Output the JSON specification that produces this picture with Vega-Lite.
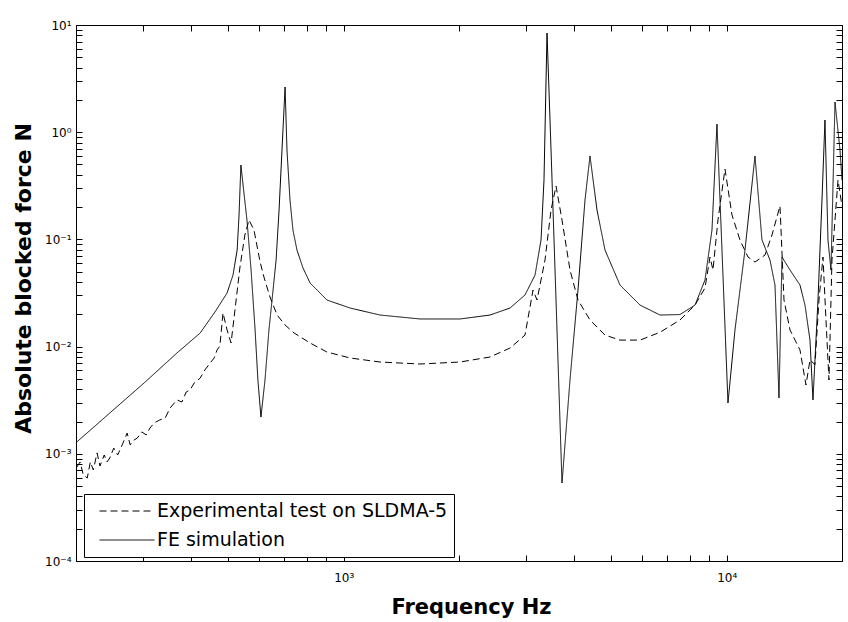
{
  "$schema": "https://vega.github.io/schema/vega-lite/v6.json",
  "width": 766,
  "height": 536,
  "autosize": {"type": "none"},
  "padding": {"left": 76, "top": 25, "right": 6, "bottom": 61},
  "background": "white",
  "config": {
    "view": {"stroke": "black", "strokeWidth": 1},
    "axis": {"domain": false, "ticks": true, "zindex": 1, "tickColor": "black", "tickWidth": 1, "tickOpacity": 1, "labelColor": "black", "titleColor": "black", "grid": false, "labelFont": "DejaVu Sans", "labelFontSize": 12, "titleFont": "DejaVu Sans", "titleFontWeight": "bold"}
  },
  "datasets": {
    "curves": [
      {"series": "FE simulation", "f": 201, "v": 0.00129},
      {"series": "FE simulation", "f": 245, "v": 0.0024},
      {"series": "FE simulation", "f": 301, "v": 0.00457},
      {"series": "FE simulation", "f": 367, "v": 0.00872},
      {"series": "FE simulation", "f": 422, "v": 0.0134},
      {"series": "FE simulation", "f": 461, "v": 0.021},
      {"series": "FE simulation", "f": 496, "v": 0.0316},
      {"series": "FE simulation", "f": 514, "v": 0.0465},
      {"series": "FE simulation", "f": 527, "v": 0.0796},
      {"series": "FE simulation", "f": 533, "v": 0.169},
      {"series": "FE simulation", "f": 539, "v": 0.494},
      {"series": "FE simulation", "f": 546, "v": 0.322},
      {"series": "FE simulation", "f": 559, "v": 0.1517},
      {"series": "FE simulation", "f": 573, "v": 0.0518},
      {"series": "FE simulation", "f": 587, "v": 0.0143},
      {"series": "FE simulation", "f": 597, "v": 0.00488},
      {"series": "FE simulation", "f": 608, "v": 0.0022},
      {"series": "FE simulation", "f": 623, "v": 0.00488},
      {"series": "FE simulation", "f": 638, "v": 0.0143},
      {"series": "FE simulation", "f": 650, "v": 0.0272},
      {"series": "FE simulation", "f": 666, "v": 0.0642},
      {"series": "FE simulation", "f": 678, "v": 0.188},
      {"series": "FE simulation", "f": 690, "v": 0.682},
      {"series": "FE simulation", "f": 703, "v": 2.64},
      {"series": "FE simulation", "f": 711, "v": 0.682},
      {"series": "FE simulation", "f": 724, "v": 0.233},
      {"series": "FE simulation", "f": 737, "v": 0.1224},
      {"series": "FE simulation", "f": 755, "v": 0.0796},
      {"series": "FE simulation", "f": 783, "v": 0.0541},
      {"series": "FE simulation", "f": 817, "v": 0.0392},
      {"series": "FE simulation", "f": 904, "v": 0.0272},
      {"series": "FE simulation", "f": 1039, "v": 0.0229},
      {"series": "FE simulation", "f": 1244, "v": 0.0197},
      {"series": "FE simulation", "f": 1582, "v": 0.0181},
      {"series": "FE simulation", "f": 2012, "v": 0.0181},
      {"series": "FE simulation", "f": 2410, "v": 0.0197},
      {"series": "FE simulation", "f": 2718, "v": 0.0229},
      {"series": "FE simulation", "f": 2974, "v": 0.0303},
      {"series": "FE simulation", "f": 3159, "v": 0.0465},
      {"series": "FE simulation", "f": 3275, "v": 0.0987},
      {"series": "FE simulation", "f": 3334, "v": 0.358},
      {"series": "FE simulation", "f": 3395, "v": 8.42},
      {"series": "FE simulation", "f": 3478, "v": 0.682},
      {"series": "FE simulation", "f": 3584, "v": 0.0272},
      {"series": "FE simulation", "f": 3715, "v": 0.000534},
      {"series": "FE simulation", "f": 3898, "v": 0.00488},
      {"series": "FE simulation", "f": 4090, "v": 0.0337},
      {"series": "FE simulation", "f": 4266, "v": 0.233},
      {"series": "FE simulation", "f": 4396, "v": 0.6},
      {"series": "FE simulation", "f": 4585, "v": 0.188},
      {"series": "FE simulation", "f": 4811, "v": 0.0796},
      {"series": "FE simulation", "f": 5265, "v": 0.0375},
      {"series": "FE simulation", "f": 5939, "v": 0.0244},
      {"series": "FE simulation", "f": 6696, "v": 0.0197},
      {"series": "FE simulation", "f": 7551, "v": 0.0199},
      {"series": "FE simulation", "f": 8265, "v": 0.0244},
      {"series": "FE simulation", "f": 8776, "v": 0.0418},
      {"series": "FE simulation", "f": 9153, "v": 0.1224},
      {"series": "FE simulation", "f": 9433, "v": 1.19},
      {"series": "FE simulation", "f": 9720, "v": 0.0796},
      {"series": "FE simulation", "f": 10077, "v": 0.00298},
      {"series": "FE simulation", "f": 10510, "v": 0.0143},
      {"series": "FE simulation", "f": 11162, "v": 0.0796},
      {"series": "FE simulation", "f": 11854, "v": 0.6},
      {"series": "FE simulation", "f": 12363, "v": 0.0987},
      {"series": "FE simulation", "f": 12972, "v": 0.0642},
      {"series": "FE simulation", "f": 13369, "v": 0.0375},
      {"series": "FE simulation", "f": 13694, "v": 0.00332},
      {"series": "FE simulation", "f": 13943, "v": 0.0685},
      {"series": "FE simulation", "f": 14630, "v": 0.0518},
      {"series": "FE simulation", "f": 15536, "v": 0.0375},
      {"series": "FE simulation", "f": 16010, "v": 0.0244},
      {"series": "FE simulation", "f": 16499, "v": 0.0115},
      {"series": "FE simulation", "f": 16798, "v": 0.00318},
      {"series": "FE simulation", "f": 17311, "v": 0.0272},
      {"series": "FE simulation", "f": 17732, "v": 0.233},
      {"series": "FE simulation", "f": 18054, "v": 1.3},
      {"series": "FE simulation", "f": 18383, "v": 0.0987},
      {"series": "FE simulation", "f": 18717, "v": 0.0518},
      {"series": "FE simulation", "f": 19176, "v": 1.913},
      {"series": "FE simulation", "f": 19761, "v": 0.682},
      {"series": "FE simulation", "f": 20000, "v": 0.358},
      {"series": "Experimental test on SLDMA-5", "f": 201, "v": 0.000753},
      {"series": "Experimental test on SLDMA-5", "f": 205, "v": 0.000839},
      {"series": "Experimental test on SLDMA-5", "f": 209, "v": 0.000634},
      {"series": "Experimental test on SLDMA-5", "f": 214, "v": 0.000595},
      {"series": "Experimental test on SLDMA-5", "f": 218, "v": 0.000839},
      {"series": "Experimental test on SLDMA-5", "f": 222, "v": 0.000706},
      {"series": "Experimental test on SLDMA-5", "f": 227, "v": 0.00102},
      {"series": "Experimental test on SLDMA-5", "f": 231, "v": 0.000769},
      {"series": "Experimental test on SLDMA-5", "f": 237, "v": 0.000975},
      {"series": "Experimental test on SLDMA-5", "f": 241, "v": 0.000839},
      {"series": "Experimental test on SLDMA-5", "f": 245, "v": 0.000914},
      {"series": "Experimental test on SLDMA-5", "f": 251, "v": 0.00113},
      {"series": "Experimental test on SLDMA-5", "f": 257, "v": 0.000975},
      {"series": "Experimental test on SLDMA-5", "f": 264, "v": 0.00121},
      {"series": "Experimental test on SLDMA-5", "f": 272, "v": 0.00156},
      {"series": "Experimental test on SLDMA-5", "f": 277, "v": 0.00121},
      {"series": "Experimental test on SLDMA-5", "f": 283, "v": 0.00134},
      {"series": "Experimental test on SLDMA-5", "f": 289, "v": 0.0014},
      {"series": "Experimental test on SLDMA-5", "f": 297, "v": 0.0016},
      {"series": "Experimental test on SLDMA-5", "f": 305, "v": 0.0015},
      {"series": "Experimental test on SLDMA-5", "f": 312, "v": 0.00174},
      {"series": "Experimental test on SLDMA-5", "f": 320, "v": 0.00194},
      {"series": "Experimental test on SLDMA-5", "f": 331, "v": 0.00207},
      {"series": "Experimental test on SLDMA-5", "f": 342, "v": 0.00216},
      {"series": "Experimental test on SLDMA-5", "f": 352, "v": 0.00267},
      {"series": "Experimental test on SLDMA-5", "f": 367, "v": 0.00318},
      {"series": "Experimental test on SLDMA-5", "f": 378, "v": 0.00304},
      {"series": "Experimental test on SLDMA-5", "f": 388, "v": 0.00377},
      {"series": "Experimental test on SLDMA-5", "f": 397, "v": 0.00394},
      {"series": "Experimental test on SLDMA-5", "f": 407, "v": 0.00457},
      {"series": "Experimental test on SLDMA-5", "f": 422, "v": 0.00509},
      {"series": "Experimental test on SLDMA-5", "f": 434, "v": 0.00605},
      {"series": "Experimental test on SLDMA-5", "f": 448, "v": 0.00703},
      {"series": "Experimental test on SLDMA-5", "f": 459, "v": 0.00783},
      {"series": "Experimental test on SLDMA-5", "f": 467, "v": 0.0093},
      {"series": "Experimental test on SLDMA-5", "f": 475, "v": 0.01013},
      {"series": "Experimental test on SLDMA-5", "f": 484, "v": 0.0206},
      {"series": "Experimental test on SLDMA-5", "f": 496, "v": 0.0143},
      {"series": "Experimental test on SLDMA-5", "f": 508, "v": 0.0108},
      {"series": "Experimental test on SLDMA-5", "f": 520, "v": 0.0219},
      {"series": "Experimental test on SLDMA-5", "f": 536, "v": 0.0553},
      {"series": "Experimental test on SLDMA-5", "f": 552, "v": 0.1099},
      {"series": "Experimental test on SLDMA-5", "f": 566, "v": 0.1517},
      {"series": "Experimental test on SLDMA-5", "f": 583, "v": 0.1224},
      {"series": "Experimental test on SLDMA-5", "f": 605, "v": 0.0615},
      {"series": "Experimental test on SLDMA-5", "f": 619, "v": 0.0446},
      {"series": "Experimental test on SLDMA-5", "f": 642, "v": 0.029},
      {"series": "Experimental test on SLDMA-5", "f": 670, "v": 0.0197},
      {"series": "Experimental test on SLDMA-5", "f": 703, "v": 0.0159},
      {"series": "Experimental test on SLDMA-5", "f": 742, "v": 0.0134},
      {"series": "Experimental test on SLDMA-5", "f": 817, "v": 0.0108},
      {"series": "Experimental test on SLDMA-5", "f": 904, "v": 0.0089},
      {"series": "Experimental test on SLDMA-5", "f": 1039, "v": 0.00783},
      {"series": "Experimental test on SLDMA-5", "f": 1244, "v": 0.00718},
      {"series": "Experimental test on SLDMA-5", "f": 1582, "v": 0.00688},
      {"series": "Experimental test on SLDMA-5", "f": 2012, "v": 0.00718},
      {"series": "Experimental test on SLDMA-5", "f": 2410, "v": 0.008},
      {"series": "Experimental test on SLDMA-5", "f": 2718, "v": 0.0097},
      {"series": "Experimental test on SLDMA-5", "f": 2974, "v": 0.0128},
      {"series": "Experimental test on SLDMA-5", "f": 3121, "v": 0.0337},
      {"series": "Experimental test on SLDMA-5", "f": 3197, "v": 0.0272},
      {"series": "Experimental test on SLDMA-5", "f": 3354, "v": 0.0642},
      {"series": "Experimental test on SLDMA-5", "f": 3478, "v": 0.188},
      {"series": "Experimental test on SLDMA-5", "f": 3584, "v": 0.315},
      {"series": "Experimental test on SLDMA-5", "f": 3715, "v": 0.1517},
      {"series": "Experimental test on SLDMA-5", "f": 3898, "v": 0.0518},
      {"series": "Experimental test on SLDMA-5", "f": 4090, "v": 0.0272},
      {"series": "Experimental test on SLDMA-5", "f": 4396, "v": 0.0177},
      {"series": "Experimental test on SLDMA-5", "f": 4811, "v": 0.0128},
      {"series": "Experimental test on SLDMA-5", "f": 5265, "v": 0.0115},
      {"series": "Experimental test on SLDMA-5", "f": 5939, "v": 0.0115},
      {"series": "Experimental test on SLDMA-5", "f": 6696, "v": 0.0136},
      {"series": "Experimental test on SLDMA-5", "f": 7551, "v": 0.0177},
      {"series": "Experimental test on SLDMA-5", "f": 8265, "v": 0.0244},
      {"series": "Experimental test on SLDMA-5", "f": 8776, "v": 0.0352},
      {"series": "Experimental test on SLDMA-5", "f": 9044, "v": 0.0685},
      {"series": "Experimental test on SLDMA-5", "f": 9208, "v": 0.0518},
      {"series": "Experimental test on SLDMA-5", "f": 9489, "v": 0.1517},
      {"series": "Experimental test on SLDMA-5", "f": 9897, "v": 0.4535},
      {"series": "Experimental test on SLDMA-5", "f": 10322, "v": 0.169},
      {"series": "Experimental test on SLDMA-5", "f": 10831, "v": 0.0987},
      {"series": "Experimental test on SLDMA-5", "f": 11365, "v": 0.0685},
      {"series": "Experimental test on SLDMA-5", "f": 11854, "v": 0.0615},
      {"series": "Experimental test on SLDMA-5", "f": 12588, "v": 0.0715},
      {"series": "Experimental test on SLDMA-5", "f": 13128, "v": 0.1099},
      {"series": "Experimental test on SLDMA-5", "f": 13777, "v": 0.205},
      {"series": "Experimental test on SLDMA-5", "f": 14112, "v": 0.0272},
      {"series": "Experimental test on SLDMA-5", "f": 14630, "v": 0.0143},
      {"series": "Experimental test on SLDMA-5", "f": 15536, "v": 0.0093},
      {"series": "Experimental test on SLDMA-5", "f": 16107, "v": 0.00438},
      {"series": "Experimental test on SLDMA-5", "f": 16499, "v": 0.0075},
      {"series": "Experimental test on SLDMA-5", "f": 17002, "v": 0.0068},
      {"series": "Experimental test on SLDMA-5", "f": 17414, "v": 0.0272},
      {"series": "Experimental test on SLDMA-5", "f": 17839, "v": 0.0685},
      {"series": "Experimental test on SLDMA-5", "f": 18164, "v": 0.0177},
      {"series": "Experimental test on SLDMA-5", "f": 18494, "v": 0.00488},
      {"series": "Experimental test on SLDMA-5", "f": 18830, "v": 0.0642},
      {"series": "Experimental test on SLDMA-5", "f": 19525, "v": 0.358},
      {"series": "Experimental test on SLDMA-5", "f": 20000, "v": 0.205}
    ]
  },
  "data": {"name": "curves"},
  "resolve": {"axis": {"x": "independent", "y": "independent"}},
  "layer": [
    {
      "mark": {"type": "line", "color": "black", "strokeWidth": 1, "clip": true},
      "encoding": {
        "x": {
          "field": "f", "type": "quantitative",
          "scale": {"type": "log", "domain": [200, 20000], "nice": false},
          "axis": {
            "orient": "bottom", "title": "Frequency Hz", "titleFontSize": 21, "titleX": 395,
            "values": [200, 300, 400, 500, 600, 700, 800, 900, 1000, 2000, 3000, 4000, 5000, 6000, 7000, 8000, 9000, 10000, 20000],
            "labelExpr": "datum.value == 1000 ? '10³' : datum.value == 10000 ? '10⁴' : ''",
            "tickSize": -6, "labelPadding": 17, "titlePadding": 13, "labelFlush": false, "labelOverlap": false
          }
        },
        "y": {
          "field": "v", "type": "quantitative",
          "scale": {"type": "log", "domain": [0.0001, 10], "nice": false},
          "axis": {
            "orient": "left", "title": "Absolute blocked force N", "titleFontSize": 22, "titleY": 253,
            "values": [0.0001, 0.0002, 0.0003, 0.0004, 0.0005, 0.0006, 0.0007, 0.0008, 0.0009, 0.001, 0.002, 0.003, 0.004, 0.005, 0.006, 0.007, 0.008, 0.009, 0.01, 0.02, 0.03, 0.04, 0.05, 0.06, 0.07, 0.08, 0.09, 0.1, 0.2, 0.3, 0.4, 0.5, 0.6, 0.7, 0.8, 0.9, 1, 2, 3, 4, 5, 6, 7, 8, 9, 10],
            "labelExpr": "datum.value == 10 ? '10¹' : datum.value == 1 ? '10⁰' : datum.value == 0.1 ? '10⁻¹' : datum.value == 0.01 ? '10⁻²' : datum.value == 0.001 ? '10⁻³' : datum.value == 0.0001 ? '10⁻⁴' : ''",
            "tickSize": -6, "labelPadding": 11, "titlePadding": 9, "labelFlush": false, "labelOverlap": false
          }
        },
        "strokeDash": {
          "field": "series", "type": "nominal",
          "scale": {"domain": ["Experimental test on SLDMA-5", "FE simulation"], "range": [[7, 4], [1, 0]]},
          "legend": {
            "title": null, "orient": "none", "legendX": 8, "legendY": 469, "zindex": 2,
            "symbolType": "stroke", "symbolSize": 3025, "symbolStrokeColor": "black", "symbolStrokeWidth": 1, "symbolOffset": 9,
            "labelFont": "DejaVu Sans", "labelFontSize": 19, "labelColor": "black", "labelLimit": 400, "labelOffset": 2,
            "clipHeight": 22, "rowPadding": 7,
            "strokeColor": "black", "fillColor": "white", "padding": 6
          }
        }
      }
    },
    {
      "mark": {"type": "line", "opacity": 0},
      "encoding": {
        "x": {
          "field": "f", "type": "quantitative",
          "axis": {
            "orient": "top", "title": null, "labels": false,
            "values": [200, 300, 400, 500, 600, 700, 800, 900, 1000, 2000, 3000, 4000, 5000, 6000, 7000, 8000, 9000, 10000, 20000],
            "tickSize": -6
          }
        },
        "y": {
          "field": "v", "type": "quantitative",
          "axis": {
            "orient": "right", "title": null, "labels": false,
            "values": [0.0001, 0.0002, 0.0003, 0.0004, 0.0005, 0.0006, 0.0007, 0.0008, 0.0009, 0.001, 0.002, 0.003, 0.004, 0.005, 0.006, 0.007, 0.008, 0.009, 0.01, 0.02, 0.03, 0.04, 0.05, 0.06, 0.07, 0.08, 0.09, 0.1, 0.2, 0.3, 0.4, 0.5, 0.6, 0.7, 0.8, 0.9, 1, 2, 3, 4, 5, 6, 7, 8, 9, 10],
            "tickSize": -6
          }
        },
        "detail": {"field": "series", "type": "nominal"}
      }
    }
  ]
}
